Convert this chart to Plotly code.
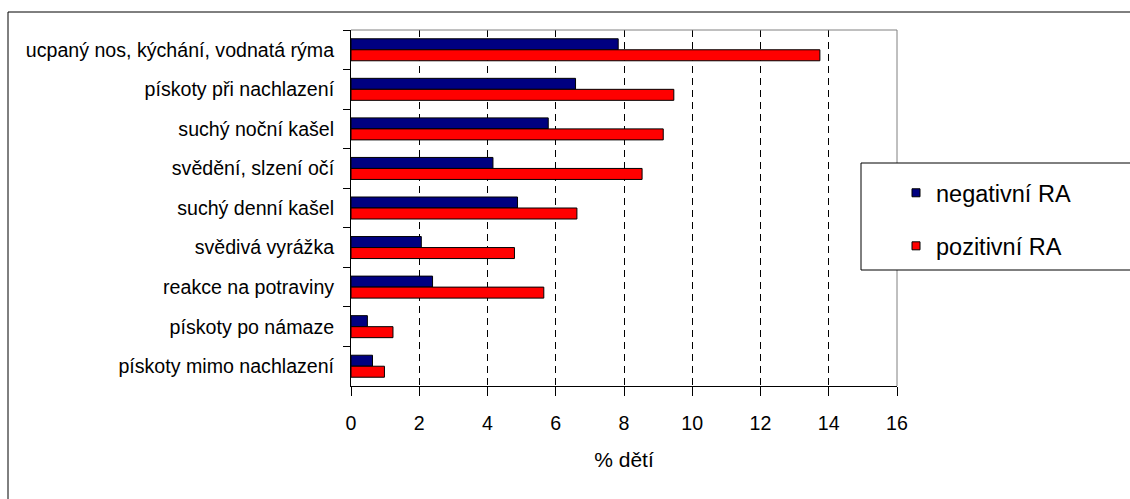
import plotly.graph_objects as go

# Symptoms reported, percentage of children by RA status
categories = [
    "ucpaný nos, kýchání, vodnatá rýma",
    "pískoty při nachlazení",
    "suchý noční kašel",
    "svědění, slzení očí",
    "suchý denní kašel",
    "svědivá vyrážka",
    "reakce na potraviny",
    "pískoty po námaze",
    "pískoty mimo nachlazení",
]
negativni_ra = [7.83, 6.58, 5.78, 4.16, 4.88, 2.06, 2.39, 0.48, 0.63]
pozitivni_ra = [13.74, 9.46, 9.15, 8.53, 6.62, 4.79, 5.65, 1.23, 0.98]
x_ticks = [0, 2, 4, 6, 8, 10, 12, 14, 16]

series_names = ["negativní RA", "pozitivní RA"]
series_colors = ["#000080", "#FF0000"]

W, H = 1130, 499
L, R, T, B = 351, 233, 30, 113
PW, PH = W - L - R, H - T - B


def px_x(px):
    return (px - L) / PW


def px_y(py):
    return (H - B - py) / PH


FONT = "Liberation Sans, Arial, sans-serif"

fig = go.Figure()

for name, vals, color in zip(series_names, [negativni_ra, pozitivni_ra], series_colors):
    fig.add_trace(go.Bar(
        y=categories, x=vals, orientation="h", name=name,
        marker=dict(color=color, line=dict(color="black", width=1)),
        showlegend=False,
    ))

# legend entries with small square swatches
for i, (name, color) in enumerate(zip(series_names, series_colors)):
    fig.add_trace(go.Scatter(
        x=[None], y=[None], mode="markers", name=name,
        legendgroup=f"g{i}",
        marker=dict(symbol="square", size=8, color=color,
                    line=dict(color="black", width=1)),
    ))

fig.update_layout(
    width=W, height=H,
    margin=dict(l=L, r=R, t=T, b=B, autoexpand=False),
    paper_bgcolor="white", plot_bgcolor="white",
    barmode="group", bargap=0.444, bargroupgap=0,
    font=dict(family=FONT, color="black", size=19.6),
    legend=dict(
        x=px_x(896), y=px_y(171), xanchor="left", yanchor="top",
        bgcolor="rgba(0,0,0,0)", borderwidth=0,
        font=dict(size=23.5, family=FONT, color="black"),
        tracegroupgap=19.5, itemsizing="trace",
    ),
    xaxis=dict(
        range=[0, 16], tickmode="array", tickvals=x_ticks,
        showgrid=True, gridcolor="black", gridwidth=1, griddash="7px,5px",
        zeroline=False,
        showline=True, linecolor="black", linewidth=1,
        ticks="outside", ticklen=9, tickcolor="black", tickwidth=1,
        tickfont=dict(size=19.6), ticklabelstandoff=10,
        title=dict(text="% dětí", font=dict(size=21), standoff=19),
        automargin=False,
    ),
    yaxis=dict(
        type="category", categoryorder="array", categoryarray=categories,
        range=[len(categories) - 0.5, -0.5],
        showgrid=False, zeroline=False,
        showline=True, linecolor="black", linewidth=1,
        ticks="outside", ticklen=7, tickcolor="black", tickwidth=1,
        tickson="boundaries",
        tickfont=dict(size=19.6), ticklabelstandoff=12,
        automargin=False,
    ),
    shapes=[
        # outer frame
        dict(type="rect", xref="paper", yref="paper",
             x0=px_x(8), x1=px_x(1140), y0=px_y(510), y1=px_y(12),
             line=dict(color="black", width=1), layer="below"),
        # plot area top and right borders
        dict(type="line", xref="paper", yref="paper",
             x0=0, x1=1, y0=1, y1=1, line=dict(color="#808080", width=1)),
        dict(type="line", xref="paper", yref="paper",
             x0=1, x1=1, y0=0, y1=1, line=dict(color="#808080", width=1)),
        # legend frame
        dict(type="rect", xref="paper", yref="paper",
             x0=px_x(861), x1=px_x(1140), y0=px_y(270), y1=px_y(163),
             line=dict(color="black", width=1), fillcolor="white"),
    ],
)

fig.write_html("out.html")
